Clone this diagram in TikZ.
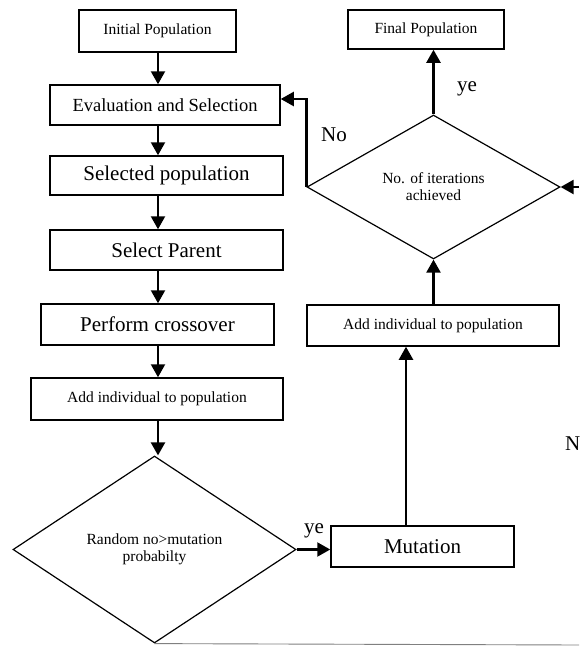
\documentclass[tikz,border=0pt]{standalone}
\usepackage{fontspec}
\setmainfont{Liberation Serif}
\usetikzlibrary{arrows.meta, shapes.geometric}

\begin{document}
\begin{tikzpicture}[x=1pt, y=-1pt, >={Triangle[length=13pt,width=14pt]},
  box/.style={draw, line width=1.5pt, inner sep=0pt},
  cond/.style={draw, diamond, line width=1.2pt, inner sep=0pt, align=center,
    font=\fontsize{15.5}{17}\selectfont},
  small/.style={font=\fontsize{15.5}{17}\selectfont},
  mid/.style={font=\fontsize{18.5}{21}\selectfont},
  big/.style={font=\fontsize{21}{24}\selectfont},
  flow/.style={->, line width=2.2pt}]

\useasboundingbox (0,0) rectangle (579,646);

% colonna sinistra
\node[box, small, minimum width=157pt, minimum height=42pt] (init) at (157.5,31) {Initial Population};
\node[box, mid, minimum width=230pt, minimum height=40pt] (eval) at (165,105) {Evaluation and Selection};
\node[box, big, minimum width=233pt, minimum height=39pt] (selpop) at (166.5,175.5) {Selected population};
\node[box, big, minimum width=233pt, minimum height=40pt] (parent) at (166.5,250) {Select Parent};
\node[box, big, minimum width=233pt, minimum height=41pt] (cross) at (157.5,324.5) {Perform crossover};
\node[box, small, minimum width=252pt, minimum height=42pt] (addL) at (157,399) {Add individual to population};
\node[cond, minimum width=283pt, minimum height=187pt, aspect=1.51] (randd) at (154.5,549.5)
  {Random no>mutation\\probabilty};

% colonna destra
\node[box, big, minimum width=183pt, minimum height=41pt] (mut) at (422.5,546.5) {Mutation};
\node[box, small, minimum width=252pt, minimum height=41pt] (addR) at (433,325.5) {Add individual to population};
\node[cond, minimum width=253pt, minimum height=144pt, aspect=1.76] (iter) at (433.5,187)
  {No. of iterations\\achieved};
\node[box, small, minimum width=156pt, minimum height=39pt] (final) at (426,29.5) {Final Population};

% punti ausiliari
\coordinate (spine) at (158,0);
\coordinate (up) at (406,0);
\coordinate (inR) at (579,187);
\coordinate (edge) at (579,645);

% frecce a sinistra
\draw[flow] (init.south -| spine) -- (eval.north -| spine);
\draw[flow] (eval.south -| spine) -- (selpop.north -| spine);
\draw[flow] (selpop.south -| spine) -- (parent.north -| spine);
\draw[flow] (parent.south -| spine) -- (cross.north -| spine);
\draw[flow] (cross.south -| spine) -- (addL.north -| spine);
\draw[flow] (addL.south -| spine) -- (randd.north -| spine);

% ramo ye verso la mutazione
\draw[flow] (randd.east) -- (randd.east -| mut.west);
\node[big] (ye1) at (314,531) {ye};

% risalita a destra
\draw[flow] (mut.north -| up) -- (addR.south -| up);
\draw[flow] (addR.north -| iter.south) -- (iter.south);
\draw[flow] (iter.north) -- (iter.north |- final.south);
\node[big] (ye2) at (467,89) {ye};

% ritorno No
\draw[flow] (iter.west) |- ([yshift=6pt]eval.east);
\node[big] (no) at (334,135) {No};

% ingresso da destra
\draw[flow] (inR) -- (iter.east);
\node[big, anchor=west, inner sep=0pt] (nn) at (565,444) {N};

% linea in basso
\draw[gray, line width=0.9pt] (randd.south) -- (edge);

\end{tikzpicture}
\end{document}
